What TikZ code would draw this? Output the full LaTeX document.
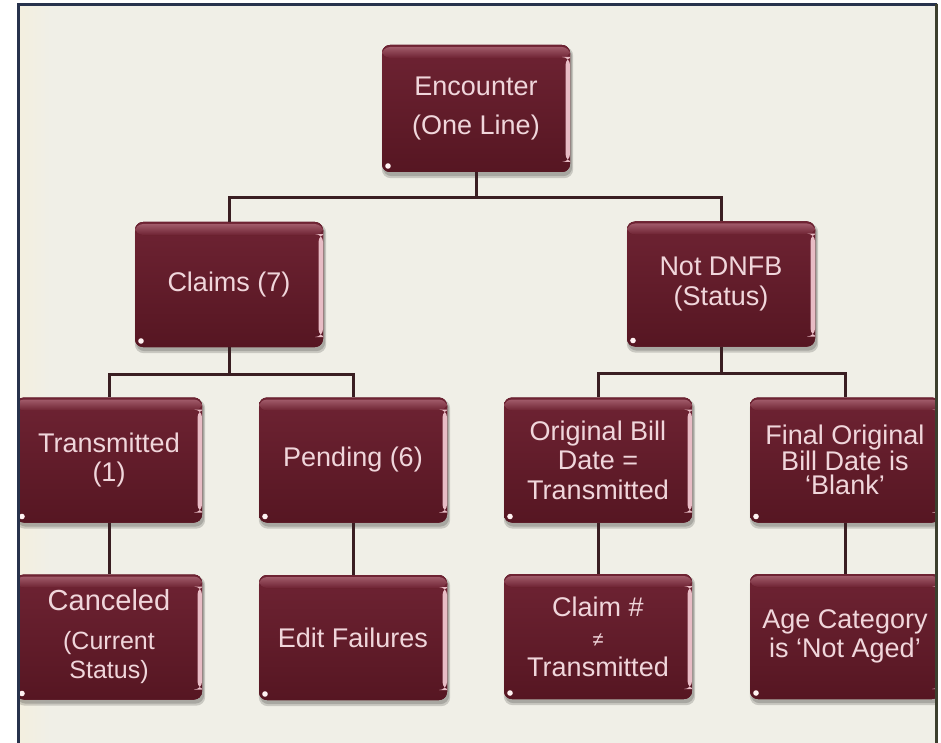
\documentclass[tikz,border=0pt]{standalone}
\usepackage{fontspec}
\setmainfont{Liberation Sans}
\usetikzlibrary{backgrounds}
\definecolor{bgc}{HTML}{F0EFE7}
\definecolor{bgwarm}{HTML}{F3EFDF}
\definecolor{mrbody}{HTML}{621B29}
\definecolor{mrtop}{HTML}{6E2333}
\definecolor{mrbot}{HTML}{561622}
\definecolor{mrband}{HTML}{A05A69}
\definecolor{mredge}{HTML}{E8BCC5}
\definecolor{mrtext}{HTML}{F0D6DB}
\definecolor{lnc}{HTML}{3A1E22}
\definecolor{framel}{HTML}{27324C}
\definecolor{framer}{HTML}{3C3F2E}
\newcommand\smf{\fontsize{25}{29}\selectfont}
\begin{document}
\begin{tikzpicture}[x=1pt,y=-1pt,
  mr/.style={rectangle, rounded corners=8pt, minimum width=188pt, minimum height=125pt,
    inner sep=0pt, fill=mrbody, text=mrtext, align=center,
    font=\fontsize{27}{29.5}\selectfont,
    path picture={
      \fill[top color=mrtop,bottom color=mrbot] (path picture bounding box.north west) rectangle (path picture bounding box.south east);
      \fill[top color=mrband,bottom color=mrtop] ([yshift=-2pt]path picture bounding box.north west) rectangle ([yshift=-13pt]path picture bounding box.north east);
      \fill[mredge] ([xshift=-4.5pt,yshift=-12pt]path picture bounding box.north east) rectangle ([yshift=10pt]path picture bounding box.south east);
      \fill[white!80!pink] ([xshift=6pt,yshift=6pt]path picture bounding box.south west) circle (2.8pt);
    }},
  conn/.style={draw=lnc, line width=3pt},
  shd/.style={fill=black, opacity=0.16, rounded corners=9pt}]
\useasboundingbox (0,0) rectangle (941,743);

% nodes
\node[mr, minimum height=127pt] (enc) at (476,108.5) {Encounter\\[9pt](One Line)};
\node[mr] (claims) at (229,284.5) {Claims (7)};
\node[mr] (notd) at (721,284) {Not DNFB\\(Status)};
\node[mr, minimum width=186pt] (trans) at (109,460) {Transmitted\\(1)};
\node[mr] (pend) at (353,460) {Pending (6)};
\node[mr] (orig) at (598,460) {Original Bill\\Date =\\Transmitted};
\node[mr, minimum width=190pt, font=\fontsize{27}{24.5}\selectfont] (final) at (845,460) {Final Original\\Bill Date is\\‘Blank’};
\node[mr, minimum width=186pt] (canc) at (109,637) {{\fontsize{29}{31}\selectfont Canceled}\\[9pt]{\smf (Current}\\{\smf Status)}};
\node[mr] (edit) at (353,637.5) {Edit Failures};
\node[mr, font=\fontsize{27}{30}\selectfont] (claimn) at (598,636.5) {Claim \#\\{\fontsize{20}{22}\selectfont ≠}\\Transmitted};
\node[mr, minimum width=190pt] (age) at (845,636.5) {Age Category\\is ‘Not Aged’};

% background and shadows
\begin{scope}[on background layer]
  \fill[bgc] (17,3) rectangle (938,743);
  \shade[left color=bgwarm, right color=bgc] (19,5) rectangle (50,743);
  \foreach \n in {enc,claims,notd,trans,pend,orig,final,canc,edit,claimn,age}{
    \fill[shd] ([xshift=1pt,yshift=-3pt]\n.north west) rectangle ([xshift=2pt,yshift=-4pt]\n.south east);
    \fill[shd] ([xshift=0pt,yshift=-2pt]\n.north west) rectangle ([xshift=3pt,yshift=-6pt]\n.south east);
  }
\end{scope}

% connectors
\draw[conn] (enc.south) -- ++(0,25) -| (claims.north);
\draw[conn] (enc.south) -- ++(0,25) -| (notd.north);
\draw[conn] (claims.south) -- ++(0,27) -| (trans.north);
\draw[conn] (claims.south) -- ++(0,27) -| (pend.north);
\draw[conn] (notd.south) -- ++(0,27) -| (orig.north);
\draw[conn] (notd.south) -- ++(0,27) -| (final.north);
\draw[conn] (trans.south) -- (canc.north);
\draw[conn] (pend.south) -- (edit.north);
\draw[conn] (orig.south) -- (claimn.north);
\draw[conn] (final.south) -- (age.north);

% outer margins and frame
\fill[white] (0,0) rectangle (17,743);
\fill[white] (938,0) rectangle (941,743);
\fill[white] (0,0) rectangle (941,3);
\draw[framel, line width=3pt] (18.5,743) -- (18.5,4.5) -- (936.5,4.5);
\draw[framer, line width=3pt] (936.5,4.5) -- (936.5,743);
\end{tikzpicture}
\end{document}
